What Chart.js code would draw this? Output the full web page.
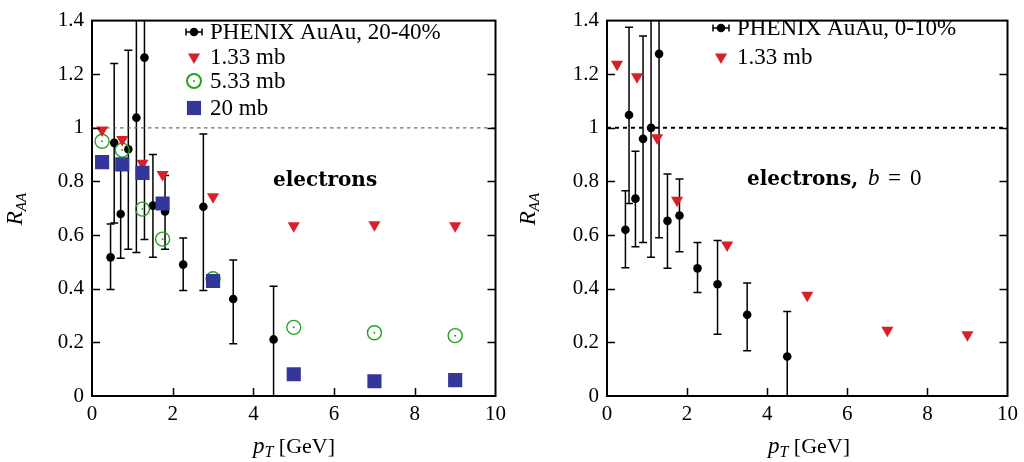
<!DOCTYPE html>
<html>
<head>
<meta charset="utf-8">
<script src="https://cdn.jsdelivr.net/npm/chart.js@4.4.1/dist/chart.umd.min.js"></script>
<style>
  html, body { margin: 0; padding: 0; background: #fff; }
  #wrap { position: relative; width: 1024px; height: 462px; }
  canvas { position: absolute; top: 0; }
  #izq { left: 0; }
  #der { left: 512px; }
</style>
</head>
<body>
<div id="wrap">
  <canvas id="izq" width="512" height="462"></canvas>
  <canvas id="der" width="512" height="462"></canvas>
</div>
<script>
// PHENIX: bins en pT y R_AA con barras de error (valores absolutos de cada extremo)
const pT = [0.46, 0.55, 0.71, 0.90, 1.10, 1.30, 1.51, 1.81, 2.26, 2.76, 3.50, 4.50];
const raa2040 = [0.517, 0.944, 0.679, 0.920, 1.038, 1.262, 0.710, 0.688, 0.490, 0.706, 0.362, 0.211];
const hi2040 = [0.641, 1.240, 0.870, 1.289, 1.550, 1.550, 0.901, 0.822, 0.589, 0.977, 0.507, 0.409];
const lo2040 = [0.397, 0.645, 0.514, 0.547, 0.535, 0.584, 0.517, 0.547, 0.393, 0.393, 0.195, -0.05];

const raa010 = [0.620, 1.048, 0.736, 0.959, 1.000, 1.276, 0.653, 0.673, 0.476, 0.417, 0.303, 0.147];
const hi010 = [0.765, 1.375, 0.913, 1.343, 1.550, 1.550, 0.828, 0.809, 0.572, 0.580, 0.421, 0.315];
const lo010 = [0.478, 0.718, 0.557, 0.572, 0.517, 0.590, 0.476, 0.538, 0.386, 0.230, 0.169, -0.05];

// modelo (secciones eficaces)
const pTmodelo = [0.25, 0.75, 1.25, 1.75, 3, 5, 7, 9];
const mb133_2040 = [0.992, 0.957, 0.868, 0.826, 0.743, 0.635, 0.639, 0.635];
const mb533_2040 = [0.950, 0.917, 0.697, 0.585, 0.437, 0.256, 0.236, 0.225];
const mb20_2040 = [0.872, 0.864, 0.832, 0.718, 0.429, 0.081, 0.055, 0.059];
const mb133_010 = [1.237, 1.191, 0.963, 0.730, 0.563, 0.376, 0.245, 0.228];

const xTicks = [0, 2, 4, 6, 8, 10];
const yTicks = [0, 0.2, 0.4, 0.6, 0.8, 1, 1.2, 1.4];
const lineaUno = [0, 10];

const ROJO = '#d7202a';
const VERDE = '#22a322';
const AZUL = '#34379a';
const SERIF = '"Liberation Serif", "Times New Roman", serif';

const pts = (xs, ys) => xs.map((x, i) => ({ x, y: ys[i] }));

// texto con subíndice: [ [texto, estilo, tamaño, dy], ... ]
function trozos(ctx, x, y, partes) {
  let cx = x;
  partes.forEach(([t, estilo, tam, dy]) => {
    ctx.font = `${estilo} ${tam}px ${SERIF}`;
    ctx.fillText(t, cx, y + (dy || 0));
    cx += ctx.measureText(t).width;
  });
  return cx - x;
}

function anchoTrozos(ctx, partes) {
  return partes.reduce((w, [t, estilo, tam]) => {
    ctx.font = `${estilo} ${tam}px ${SERIF}`;
    return w + ctx.measureText(t).width;
  }, 0);
}

function marcador(ctx, tipo, x, y) {
  const dp = Chart.helpers.drawPoint;
  ctx.save();
  if (tipo === 'err') {
    ctx.strokeStyle = '#000';
    ctx.fillStyle = '#000';
    ctx.lineWidth = 1.5;
    ctx.beginPath();
    ctx.moveTo(x - 8, y); ctx.lineTo(x + 8, y);
    ctx.moveTo(x - 8, y - 3.5); ctx.lineTo(x - 8, y + 3.5);
    ctx.moveTo(x + 8, y - 3.5); ctx.lineTo(x + 8, y + 3.5);
    ctx.stroke();
    ctx.beginPath(); ctx.arc(x, y, 4.3, 0, Math.PI * 2); ctx.fill();
  } else if (tipo === 'tri') {
    ctx.fillStyle = ROJO;
    dp(ctx, { pointStyle: 'triangle', rotation: 180, radius: 7, borderWidth: 0 }, x, y);
  } else if (tipo === 'circ') {
    ctx.strokeStyle = VERDE;
    ctx.fillStyle = 'rgba(0,0,0,0)';
    dp(ctx, { pointStyle: 'circle', radius: 7, borderWidth: 1.4 }, x, y);
    ctx.fillStyle = VERDE;
    dp(ctx, { pointStyle: 'circle', radius: 1, borderWidth: 0 }, x, y);
  } else if (tipo === 'sq') {
    ctx.fillStyle = AZUL;
    dp(ctx, { pointStyle: 'rect', radius: 10, borderWidth: 0 }, x, y);
  }
  ctx.restore();
}

function hacerMarco(cfg) {
  return {
    id: 'marco',
    beforeDatasetsDraw(chart) {
      const { ctx, chartArea: a, scales: { x, y } } = chart;
      ctx.save();
      ctx.beginPath();
      ctx.rect(a.left, a.top, a.right - a.left, a.bottom - a.top);
      ctx.clip();
      ctx.strokeStyle = '#000';
      ctx.lineWidth = 1.5;
      cfg.err.x.forEach((v, i) => {
        const px = x.getPixelForValue(v);
        const y1 = y.getPixelForValue(cfg.err.hi[i]);
        const y0 = y.getPixelForValue(cfg.err.lo[i]);
        ctx.beginPath();
        ctx.moveTo(px, y0); ctx.lineTo(px, y1);
        ctx.moveTo(px - 4, y0); ctx.lineTo(px + 4, y0);
        ctx.moveTo(px - 4, y1); ctx.lineTo(px + 4, y1);
        ctx.stroke();
      });
      ctx.restore();
    },
    afterDraw(chart) {
      const { ctx, chartArea: a, scales: { x, y } } = chart;
      ctx.save();
      // ticks hacia dentro
      ctx.strokeStyle = '#000';
      ctx.lineWidth = 1.5;
      ctx.beginPath();
      y.ticks.forEach((t) => {
        if (t.value <= 0 || t.value >= 1.4) return;
        const py = Math.round(y.getPixelForValue(t.value)) + 0.5;
        ctx.moveTo(a.left, py); ctx.lineTo(a.left + 8, py);
        ctx.moveTo(a.right, py); ctx.lineTo(a.right - 8, py);
      });
      x.ticks.forEach((t) => {
        if (t.value <= 0 || t.value >= 10) return;
        const px = Math.round(x.getPixelForValue(t.value)) + 0.5;
        ctx.moveTo(px, a.bottom); ctx.lineTo(px, a.bottom - 8);
      });
      ctx.stroke();
      // marco
      ctx.lineWidth = 2;
      ctx.strokeRect(a.left, a.top, a.right - a.left, a.bottom - a.top);

      // leyenda
      ctx.fillStyle = '#000';
      ctx.textBaseline = 'middle';
      ctx.textAlign = 'left';
      cfg.leyenda.forEach((it) => {
        marcador(ctx, it.tipo, cfg.legX, it.y);
        ctx.fillStyle = '#000';
        ctx.font = `23px ${SERIF}`;
        ctx.fillText(it.texto, cfg.legTxt, it.y + 1);
      });

      // nota "electrons"
      ctx.textBaseline = 'alphabetic';
      ctx.font = `bold 20px "DejaVu Serif", serif`;
      ctx.fillText('electrons', cfg.nota.x, cfg.nota.y);
      if (cfg.nota.b) {
        ctx.fillText(',', cfg.nota.x + ctx.measureText('electrons').width, cfg.nota.y);
        ctx.font = `italic 23px ${SERIF}`;
        ctx.fillText('b', cfg.nota.b, cfg.nota.y);
        ctx.font = `23px ${SERIF}`;
        ctx.fillText('=', cfg.nota.eq, cfg.nota.y);
        ctx.fillText('0', cfg.nota.cero, cfg.nota.y);
      }

      // títulos de ejes
      const tx = [['p', 'italic', 23, 0], ['T', 'italic', 16, 4], [' [GeV]', '', 22, 0]];
      const wx = anchoTrozos(ctx, tx);
      trozos(ctx, cfg.tituloX - wx / 2, 453, tx);

      const ty = [['R', 'italic', 23, 0], ['AA', 'italic', 15, 4]];
      const wy = anchoTrozos(ctx, ty);
      ctx.translate(cfg.tituloY + 8, 209);
      ctx.rotate(-Math.PI / 2);
      trozos(ctx, -wy / 2, 0, ty);
      ctx.restore();
    },
  };
}

function opciones(anchoY, padDer) {
  const fuente = { family: SERIF, size: 21 };
  return {
    responsive: false,
    animation: false,
    events: [],
    layout: { padding: { top: 13, right: padDer, left: 0, bottom: 0 } },
    plugins: { legend: { display: false }, tooltip: { enabled: false } },
    scales: {
      x: {
        type: 'linear', min: 0, max: 10,
        afterBuildTicks: (s) => { s.ticks = xTicks.map((v) => ({ value: v })); },
        ticks: { font: fuente, color: '#000', padding: 6, callback: (v) => `${v}` },
        grid: { display: false, drawTicks: false },
        border: { display: false },
        afterFit: (s) => { s.height = 66; },
      },
      y: {
        type: 'linear', min: 0, max: 1.4,
        afterBuildTicks: (s) => { s.ticks = yTicks.map((v) => ({ value: v })); },
        ticks: { font: fuente, color: '#000', padding: 8, callback: (v) => `${v}` },
        grid: { display: false, drawTicks: false },
        border: { display: false },
        afterFit: (s) => { s.width = anchoY; },
      },
    },
  };
}

const dsLinea = (color, dash, ancho) => ({
  data: pts(lineaUno, [1, 1]),
  showLine: true, pointRadius: 0, borderColor: color, borderDash: dash, borderWidth: ancho, order: 10,
});
const dsPhenix = (ys) => ({
  data: pts(pT, ys), pointStyle: 'circle', pointRadius: 4.3, backgroundColor: '#000', borderWidth: 0, order: 6,
});
const dsTri = (ys) => ({
  data: pts(pTmodelo, ys), pointStyle: 'triangle', rotation: 180, pointRadius: 7,
  backgroundColor: ROJO, borderWidth: 0, order: 3,
});

new Chart(document.getElementById('izq'), {
  type: 'scatter',
  data: {
    datasets: [
      dsLinea('#6e6e6e', [3.5, 3.5], 1.3),
      dsPhenix(raa2040),
      { data: pts(pTmodelo, mb533_2040), pointStyle: 'circle', pointRadius: 7, backgroundColor: 'rgba(0,0,0,0)',
        borderColor: VERDE, borderWidth: 1.4, order: 5 },
      { data: pts(pTmodelo, mb533_2040), pointStyle: 'circle', pointRadius: 1, backgroundColor: VERDE, borderWidth: 0, order: 4 },
      dsTri(mb133_2040),
      { data: pts(pTmodelo, mb20_2040), pointStyle: 'rect', pointRadius: 10, backgroundColor: AZUL, borderWidth: 0, order: 2 },
    ],
  },
  options: opciones(92, 13),
  plugins: [hacerMarco({
    err: { x: pT, lo: lo2040, hi: hi2040 },
    legX: 194, legTxt: 210,
    leyenda: [
      { tipo: 'err', texto: 'PHENIX AuAu, 20-40%', y: 32 },
      { tipo: 'tri', texto: '1.33 mb', y: 57 },
      { tipo: 'circ', texto: '5.33 mb', y: 81 },
      { tipo: 'sq', texto: '20 mb', y: 108 },
    ],
    nota: { x: 273, y: 186 },
    tituloX: 294, tituloY: 14,
  })],
});

new Chart(document.getElementById('der'), {
  type: 'scatter',
  data: {
    datasets: [
      dsLinea('#000', [4, 4], 2),
      dsPhenix(raa010),
      dsTri(mb133_010),
    ],
  },
  options: opciones(95, 11),
  plugins: [hacerMarco({
    err: { x: pT, lo: lo010, hi: hi010 },
    legX: 209, legTxt: 225,
    leyenda: [
      { tipo: 'err', texto: 'PHENIX AuAu, 0-10%', y: 28 },
      { tipo: 'tri', texto: '1.33 mb', y: 57 },
    ],
    nota: { x: 235, y: 185, b: 356, eq: 376, cero: 398 },
    tituloX: 297, tituloY: 15,
  })],
});
</script>
</body>
</html>
